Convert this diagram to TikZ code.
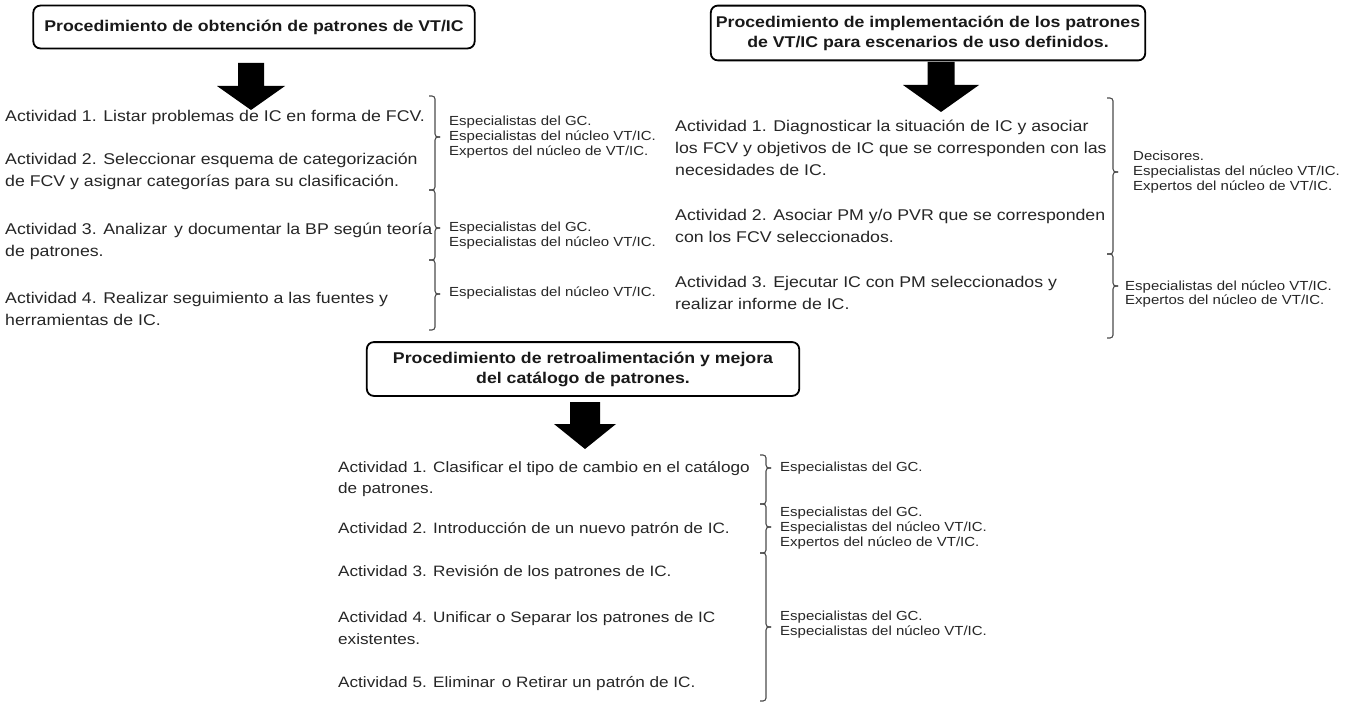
\documentclass[tikz,border=0pt]{standalone}
\usepackage{fontspec}
\setmainfont[FakeStretch=1.14]{Liberation Sans}
\begin{document}
\begin{tikzpicture}[x=1bp,y=-1bp,
  titlebox/.style={draw=black, line width=1.8bp, rounded corners=7bp, inner sep=0pt,
    align=center, text=black!90, font=\fontsize{15.6}{20}\selectfont\bfseries},
  act/.style={anchor=west, align=left, inner sep=0pt, text=black!85,
    font=\fontsize{15.6}{22}\selectfont},
  actsmall/.style={act, font=\fontsize{15.1}{22}\selectfont},
  who/.style={anchor=west, align=left, inner sep=0pt, text=black!85,
    font=\fontsize{13.2}{15}\selectfont},
  bracestyle/.style={draw=black!70, line width=1.1bp, rounded corners=3bp},
  pics/downarrow/.style args={#1/#2/#3/#4}{code={
    \fill[black] (-#1,0) -- (#1,0) -- (#1,#3) -- (#2,#3) -- (0,#4)
      -- (-#2,#3) -- (-#1,#3) -- cycle;}}
]
% canvas
\fill[white] (0,0) rectangle (1359,704);
\useasboundingbox (0,0) rectangle (1359,704);

% grouping bracket: x, top, middle tick, bottom
\newcommand\grp[4]{%
  \draw[bracestyle] (#1-6,#2) -- (#1,#2) -- (#1,#3) -- (#1+5,#3);
  \draw[bracestyle] (#1+5,#3) -- (#1,#3) -- (#1,#4) -- (#1-6,#4);}

% ---------- procedure 1 ----------
\node[titlebox, minimum width=443, minimum height=43] (t1) at (254,27)
  {Procedimiento de obtención de patrones de VT/IC};
\pic at (251,63) {downarrow=13/34/23/47};

\node[act] (a11) at (5,117) {Actividad 1. Listar problemas de IC en forma de FCV.};
\node[act] (a12) at (5,171) {Actividad 2. Seleccionar esquema de categorización\\de FCV y asignar categorías para su clasificación.};
\node[act] (a13) at (5,241) {Actividad 3. Analizar\hspace{2pt} y documentar la BP según teoría\\de patrones.};
\node[act] (a14) at (5,309) {Actividad 4. Realizar seguimiento a las fuentes y\\herramientas de IC.};

\grp{435}{96}{137}{190}
\grp{435}{190}{228}{260}
\grp{435}{260}{294}{330}

\node[who] (w11) at (449,137) {Especialistas del GC.\\Especialistas del núcleo VT/IC.\\Expertos del núcleo de VT/IC.};
\node[who] (w12) at (449,236) {Especialistas del GC.\\Especialistas del núcleo VT/IC.};
\node[who] (w13) at (449,293) {Especialistas del núcleo VT/IC.};

% ---------- procedure 2 ----------
\node[titlebox, minimum width=436, minimum height=55] (t2) at (928,33)
  {Procedimiento de implementación de los patrones\\de VT/IC para escenarios de uso definidos.};
\pic at (941,62) {downarrow=13.5/38/23/50};

\node[act] (b1) at (675,148) {Actividad 1. Diagnosticar la situación de IC y asociar\\los FCV y objetivos de IC que se corresponden con las\\necesidades de IC.};
\node[act] (b2) at (675,226) {Actividad 2. Asociar PM y/o PVR que se corresponden\\con los FCV seleccionados.};
\node[act] (b3) at (675,293) {Actividad 3. Ejecutar IC con PM seleccionados y\\realizar informe de IC.};

\grp{1113}{98}{172}{254}
\grp{1113}{254}{286}{338}

\node[who] (w21) at (1133,172) {Decisores.\\Especialistas del núcleo VT/IC.\\Expertos del núcleo de VT/IC.};
\node[who] (w22) at (1125,294) {Especialistas del núcleo VT/IC.\\Expertos del núcleo de VT/IC.};

% ---------- procedure 3 ----------
\node[titlebox, minimum width=434, minimum height=54] (t3) at (583,369)
  {Procedimiento de retroalimentación y mejora\\del catálogo de patrones.};
\pic at (585,402) {downarrow=15/31/22/47};

\node[actsmall] (c1) at (338,479) {Actividad 1. Clasificar el tipo de cambio en el catálogo\\de patrones.};
\node[actsmall] (c2) at (338,530) {Actividad 2. Introducción de un nuevo patrón de IC.};
\node[actsmall] (c3) at (338,573) {Actividad 3. Revisión de los patrones de IC.};
\node[actsmall] (c4) at (338,628) {Actividad 4. Unificar o Separar los patrones de IC\\existentes.};
\node[actsmall] (c5) at (338,684) {Actividad 5. Eliminar\hspace{2pt} o Retirar un patrón de IC.};

\grp{766}{455}{468}{504}
\grp{766}{504}{527}{553}
\grp{766}{553}{627}{701}

\node[who] (w31) at (780,468) {Especialistas del GC.};
\node[who] (w32) at (780,528) {Especialistas del GC.\\Especialistas del núcleo VT/IC.\\Expertos del núcleo de VT/IC.};
\node[who] (w33) at (780,625) {Especialistas del GC.\\Especialistas del núcleo VT/IC.};
\end{tikzpicture}
\end{document}
